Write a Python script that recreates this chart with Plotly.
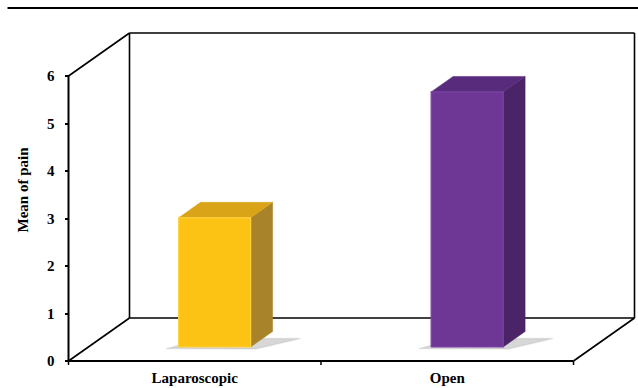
import plotly.graph_objects as go

# ---- data -------------------------------------------------------------
categories = ["Laparoscopic", "Open"]
mean_pain = [2.72, 5.37]
y_tick_values = [0, 1, 2, 3, 4, 5, 6]
y_title = "Mean of pain"

front_colors = ["#FDC314", "#6E3795"]
edge_colors = ["#FFD23F", "#7A44A3"]
side_colors = ["#A8832A", "#4A2467"]
top_colors = ["#D9A417", "#592B7D"]

# ---- geometry of the pseudo-3D box (data units) -------------------------
W, H = 638, 388
PX_X = 252.5          # pixels per category unit
PX_Y = 47.5           # pixels per value unit
DX = 61 / PX_X        # horizontal depth of the floor
DY = 43 / PX_Y        # vertical depth of the floor
Y_MAX = 6
X0, X1 = -0.5, len(categories) - 0.5
PAD_X = 3.5 / PX_X
PAD_Y = 4 / PX_Y
HALF_W = 36 / PX_X    # half width of a bar's front face
F0, F1 = 0.326, 0.686 # front/back depth fraction of the bars

x_range = [X0 - PAD_X, X1 + DX + PAD_X]
y_range = [-PAD_Y, Y_MAX + DY + PAD_Y]

plot_w = (x_range[1] - x_range[0]) * PX_X
plot_h = (y_range[1] - y_range[0]) * PX_Y
m_left = 68 - PAD_X * PX_X
m_bottom = 27 - PAD_Y * PX_Y
m_right = max(0.0, W - m_left - plot_w)
m_top = max(0.0, H - m_bottom - plot_h)

fig = go.Figure()

# bar shadows on the floor
for i, v in enumerate(mean_pain):
    cx = i + F0 * DX
    xl, xr = cx - HALF_W, cx + HALF_W
    yb = F0 * DY
    dd = F1 - F0
    sx = [xl - 0.05, xr + 0.02, xr + dd * DX + 0.11, xl + dd * DX]
    sy = [yb - 0.03, yb - 0.04, yb + dd * DY * 0.55, yb + dd * DY * 0.55]
    fig.add_trace(go.Scatter(x=sx, y=sy, fill="toself", mode="lines",
                             line=dict(width=1.5, color="rgba(170,170,170,0.25)"),
                             fillcolor="rgba(150,150,150,0.38)",
                             hoverinfo="skip", showlegend=False))

# 3D bars: front, side and top faces
for i, v in enumerate(mean_pain):
    cx = i + F0 * DX
    xl, xr = cx - HALF_W, cx + HALF_W
    yb = F0 * DY
    yt = yb + v
    dd = F1 - F0
    ox, oy = dd * DX, dd * DY
    # side face
    fig.add_trace(go.Scatter(
        x=[xr, xr, xr + ox, xr + ox, xr], y=[yb, yt, yt + oy, yb + oy, yb],
        fill="toself", mode="lines", line=dict(width=0.5, color=side_colors[i]),
        fillcolor=side_colors[i], hoverinfo="skip", showlegend=False))
    # top face
    fig.add_trace(go.Scatter(
        x=[xl, xr, xr + ox, xl + ox, xl], y=[yt, yt, yt + oy, yt + oy, yt],
        fill="toself", mode="lines", line=dict(width=0.5, color=top_colors[i]),
        fillcolor=top_colors[i], hoverinfo="skip", showlegend=False))
    # front face
    fig.add_trace(go.Scatter(
        x=[xl, xr, xr, xl, xl], y=[yb, yb, yt, yt, yb],
        fill="toself", mode="lines", line=dict(width=1.2, color=edge_colors[i]),
        fillcolor=front_colors[i], hoverinfo="skip", showlegend=False,
        name=categories[i]))

# ---- wall and floor outlines -------------------------------------------
def seg(x0, y0, x1, y1, w=1.6):
    return dict(type="line", xref="x", yref="y", x0=x0, y0=y0, x1=x1, y1=y1,
                line=dict(color="black", width=w), layer="below")

shapes = [
    seg(X0 + DX, DY, X0 + DX, Y_MAX + DY),            # back wall left edge
    seg(X0 + DX, Y_MAX + DY, X1 + DX, Y_MAX + DY),    # back wall top
    seg(X1 + DX, Y_MAX + DY, X1 + DX, DY),            # back wall right edge
    seg(X0 + DX, DY, X1 + DX, DY),                    # floor back edge
    seg(X0, Y_MAX, X0 + DX, Y_MAX + DY),              # side wall top
    seg(X0, 0, X0 + DX, DY),                          # side floor edge
    seg(X1, 0, X1 + DX, DY),                          # floor right edge
    seg(X0, 0, X0, Y_MAX, 2),                         # value axis
    seg(X0, 0, X1, 0, 2),                             # category axis
]
# category boundary ticks
for k in range(len(categories) + 1):
    shapes.append(seg(X0 + k, 0, X0 + k, -PAD_Y, 1.5))

# rule across the top of the figure
shapes.append(dict(type="line", xref="paper", yref="paper",
                   x0=(7 - m_left) / plot_w, x1=(W - m_left) / plot_w,
                   y0=(H - m_bottom - 8) / plot_h, y1=(H - m_bottom - 8) / plot_h,
                   line=dict(color="black", width=2)))

font_family = "Liberation Serif, Times New Roman, serif"

fig.update_layout(
    width=W, height=H,
    margin=dict(l=m_left, r=m_right, t=m_top, b=m_bottom, pad=0),
    paper_bgcolor="white", plot_bgcolor="white",
    showlegend=False,
    shapes=shapes,
    xaxis=dict(range=x_range, tickvals=list(range(len(categories))),
               ticktext=[f"<b>{c}</b>" for c in categories],
               ticks="", showgrid=False, zeroline=False, showline=False,
               ticklabelstandoff=6,
               anchor="free", position=PAD_Y / (y_range[1] - y_range[0]),
               tickfont=dict(family=font_family, size=15, color="black"),
               fixedrange=True),
    yaxis=dict(range=y_range, tickvals=y_tick_values,
               ticktext=[f"<b>{t}</b>" for t in y_tick_values],
               ticks="outside", ticklen=4, tickwidth=1.5, tickcolor="black",
               ticklabelstandoff=7,
               showgrid=False, zeroline=False, showline=False,
               anchor="free", position=PAD_X / (x_range[1] - x_range[0]),
               tickfont=dict(family=font_family, size=15, color="black"),
               fixedrange=True),
    annotations=[dict(text=f"<b>{y_title}</b>", textangle=-90,
                      xref="paper", yref="paper",
                      x=(22 - m_left) / plot_w, y=(H - m_bottom - 190) / plot_h,
                      showarrow=False, xanchor="center", yanchor="middle",
                      font=dict(family=font_family, size=15, color="black"))],
)

fig.write_html("out.html")
